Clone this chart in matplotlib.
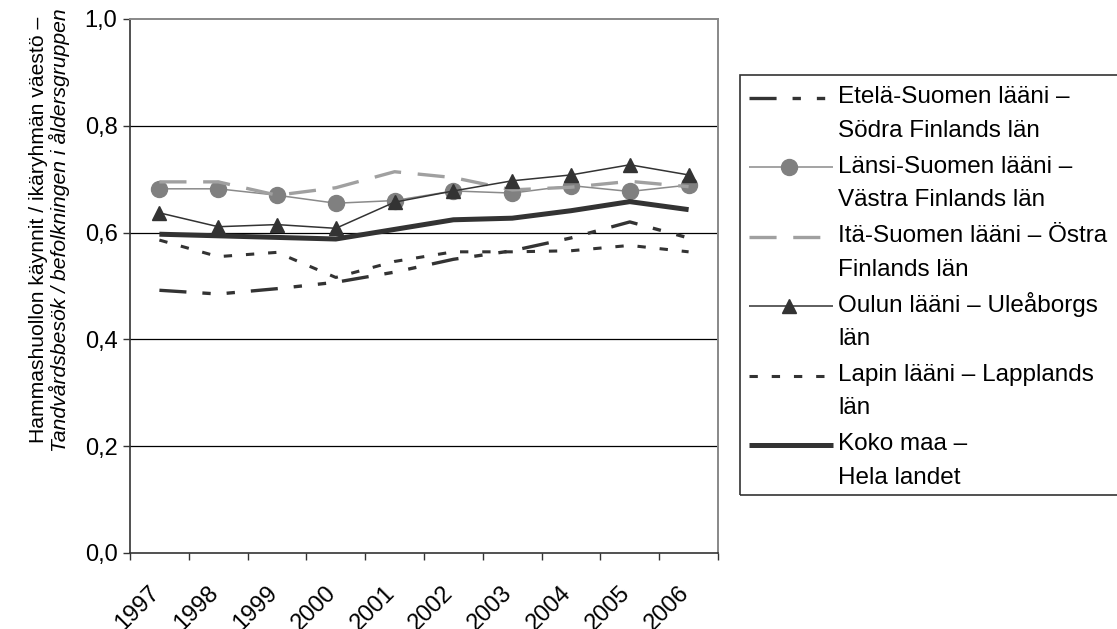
import matplotlib
matplotlib.use("Agg")
import matplotlib.pyplot as plt
import matplotlib.transforms as mtransforms
from matplotlib.lines import Line2D
from matplotlib.patches import Rectangle
import numpy as np

plt.rcParams["font.family"] = ["Liberation Sans", "DejaVu Sans"]
plt.rcParams["lines.scale_dashes"] = False

years = ["1997", "1998", "1999", "2000", "2001", "2002", "2003", "2004", "2005", "2006"]
etela = [0.492, 0.485, 0.495, 0.507, 0.526, 0.550, 0.566, 0.590, 0.620, 0.590]
lansi = [0.682, 0.682, 0.670, 0.655, 0.660, 0.678, 0.674, 0.688, 0.677, 0.689]
ita = [0.695, 0.695, 0.670, 0.684, 0.714, 0.703, 0.680, 0.685, 0.696, 0.686]
oulu = [0.637, 0.611, 0.615, 0.608, 0.657, 0.678, 0.697, 0.708, 0.727, 0.708]
lappi = [0.586, 0.555, 0.563, 0.516, 0.546, 0.564, 0.564, 0.566, 0.576, 0.564]
koko = [0.597, 0.594, 0.591, 0.588, 0.606, 0.624, 0.627, 0.641, 0.658, 0.643]

labels = [
    ["Etelä-Suomen lääni –", "Södra Finlands län"],
    ["Länsi-Suomen lääni –", "Västra Finlands län"],
    ["Itä-Suomen lääni – Östra", "Finlands län"],
    ["Oulun lääni – Uleåborgs", "län"],
    ["Lapin lääni – Lapplands", "län"],
    ["Koko maa –", "Hela landet"],
]

dark = "#333333"
styles = [
    dict(color=dark, lw=2.4, dashes=[19.5, 11.5, 6, 11.5, 6, 11.5], marker=None),
    dict(color="#8a8a8a", lw=1.1, marker="o", ms=11.5, mfc="#808080", mec="#808080"),
    dict(color="#a0a0a0", lw=2.4, dashes=[19.5, 12], marker=None),
    dict(color=dark, lw=1.1, marker="^", ms=10, mfc=dark, mec=dark),
    dict(color=dark, lw=2.2, dashes=[6, 10], marker=None),
    dict(color=dark, lw=3.6, marker=None),
]
series = [etela, lansi, ita, oulu, lappi, koko]

W, H = 1117, 629
fig = plt.figure(figsize=(W / 100, H / 100), dpi=100)
ax = fig.add_axes([130 / W, 1 - 553 / H, (718 - 130) / W, (553 - 19) / H])

x = np.arange(len(years)) + 0.5
for vals, st in zip(series, styles):
    st = dict(st)
    dashes = st.pop("dashes", None)
    line, = ax.plot(x, vals, solid_capstyle="butt", dash_capstyle="butt", **st)
    if dashes:
        line.set_dashes(dashes)

ax.set_xlim(0, len(years))
ax.set_ylim(0, 1.0)
ax.set_yticks(np.arange(0, 1.01, 0.2))
ax.set_yticklabels([f"{v:.1f}".replace(".", ",") for v in np.arange(0, 1.01, 0.2)], fontsize=17)
ax.tick_params(axis="y", direction="out", length=5, width=1, color=dark, pad=4)
for v in [0.2, 0.4, 0.6, 0.8]:
    ax.axhline(v, color="black", lw=0.9, zorder=0)

ax.set_xticks(x)
ax.set_xticklabels(years, fontsize=17, rotation=45, ha="right", va="top", rotation_mode="anchor")
ax.set_xticks(np.arange(0, len(years) + 1), minor=True)
ax.tick_params(axis="x", which="major", length=0, pad=21)
ax.tick_params(axis="x", which="minor", length=5, width=1, color=dark)
shift = mtransforms.ScaledTranslation(-11 / 100, 0, fig.dpi_scale_trans)
for lab in ax.get_xticklabels():
    lab.set_transform(lab.get_transform() + shift)

for s in ["left", "bottom"]:
    ax.spines[s].set_color(dark)
    ax.spines[s].set_linewidth(1.2)
for s in ["top", "right"]:
    ax.spines[s].set_color("#888888")
    ax.spines[s].set_linewidth(1.4)

fig.text(39 / W, 1 - 230 / H, "Hammashuollon käynnit / ikäryhmän väestö –",
         rotation=90, ha="center", va="center", fontsize=15.2)
fig.text(59 / W, 1 - 230 / H, "Tandvårdsbesök / befolkningen i åldersgruppen",
         rotation=90, ha="center", va="center", fontsize=15.2, style="italic")

# legend drawn by hand in pixel positions
fig.add_artist(Rectangle((740 / W, 1 - 495 / H), (1130 - 740) / W, (495 - 75) / H,
                         transform=fig.transFigure, fill=False, edgecolor=dark, lw=1.2))
for i, (lab, st) in enumerate(zip(labels, styles)):
    yh = 98 + i * 69.4
    st = dict(st)
    dashes = st.pop("dashes", None)
    marker = st.pop("marker", None)
    ms = st.pop("ms", None)
    mfc = st.pop("mfc", None)
    mec = st.pop("mec", None)
    ln = Line2D([749 / W, 833 / W], [1 - yh / H, 1 - yh / H], transform=fig.transFigure,
                solid_capstyle="butt", dash_capstyle="butt", **st)
    if dashes:
        ln.set_dashes(dashes)
    fig.add_artist(ln)
    if marker:
        fig.add_artist(Line2D([789 / W], [1 - yh / H], transform=fig.transFigure,
                              marker=marker, ms=ms, mfc=mfc, mec=mec, lw=0))
    fig.text(838 / W, 1 - (yh + 5.3) / H, lab[0], fontsize=17.5, va="baseline")
    fig.text(838 / W, 1 - (yh + 38.7) / H, lab[1], fontsize=17.5, va="baseline")

fig.savefig("out.png", dpi=100)
